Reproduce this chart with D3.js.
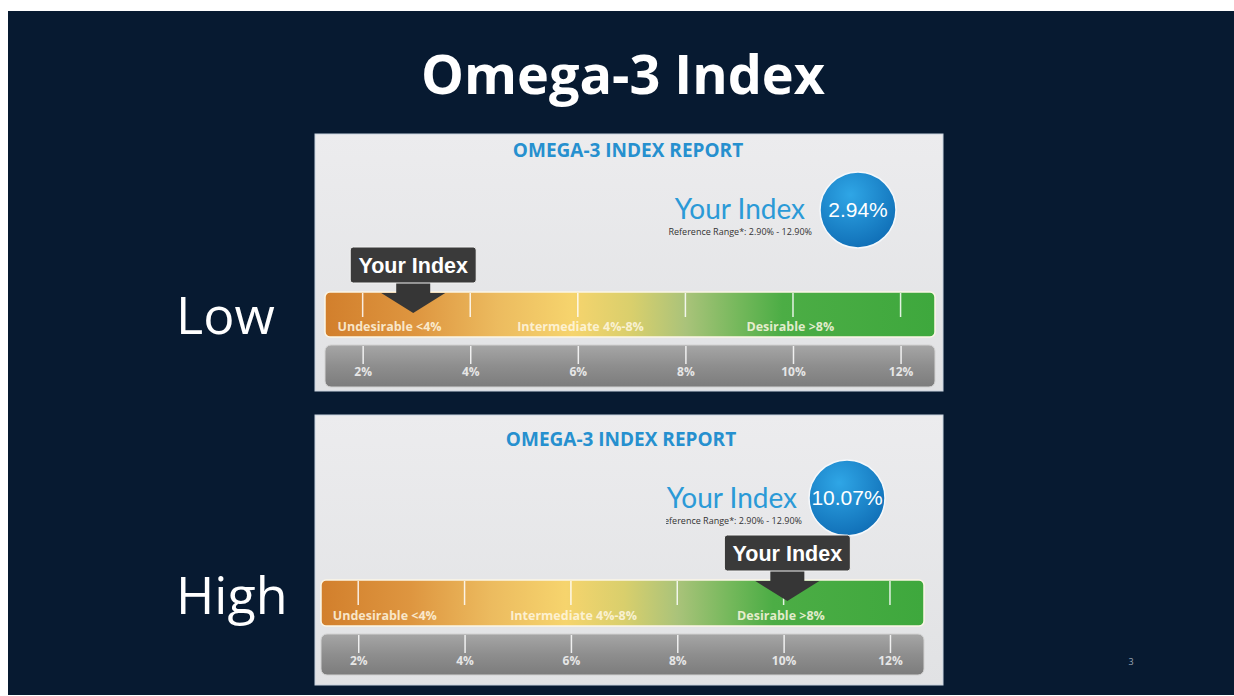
<!DOCTYPE html>
<html><head><meta charset="utf-8">
<script src="https://cdn.jsdelivr.net/npm/d3@7"></script>
<style>html,body{margin:0;padding:0;background:#fff;}svg{display:block;}</style>
</head><body>
<script>
// ---- data ----
const pageTitle = "Omega-3 Index";
const reportTitle = "OMEGA-3 INDEX REPORT";
const panelLabels = ["Low", "High"];
const indexValues = [2.94, 10.07];
const indexTexts = ["2.94%", "10.07%"];
const tickValues = [2, 4, 6, 8, 10, 12];
const tickLabels = ["2%", "4%", "6%", "8%", "10%", "12%"];
const zoneNames = ["Undesirable <4%", "Intermediate 4%-8%", "Desirable >8%"];
const zoneLabelAt = [2.5, 6.05, 9.95];
const scaleDomain = [1.3, 12.64];
const referenceRange = "Reference Range*: 2.90% - 12.90%";
const calloutText = "Your Index";
const pageNumber = "3";

// ---- layout ----
const W = 1234, H = 696;
const svg = d3.select("body").append("svg").attr("width", W).attr("height", H);
const defs = svg.append("defs");

svg.append("rect").attr("x", 8).attr("y", 11).attr("width", W - 8).attr("height", 684).attr("fill", "#071a31");

svg.append("text").attr("x", 623).attr("y", 94).attr("text-anchor", "middle")
  .attr("font-family", "'Open Sans', sans-serif").attr("font-weight", 700).attr("font-size", 54)
  .attr("fill", "#ffffff").text(pageTitle);

svg.append("text").attr("x", 1131).attr("y", 665).attr("text-anchor", "middle")
  .attr("font-family", "'Open Sans', sans-serif").attr("font-size", 9).attr("fill", "#9aa6b6").text(pageNumber);

// gradients
const pg = defs.append("linearGradient").attr("id", "panelBg").attr("x1", 0).attr("y1", 0).attr("x2", 0).attr("y2", 1);
pg.append("stop").attr("offset", 0).attr("stop-color", "#ececee");
pg.append("stop").attr("offset", 1).attr("stop-color", "#e1e2e4");

const gg = defs.append("linearGradient").attr("id", "greyBar").attr("x1", 0).attr("y1", 0).attr("x2", 0).attr("y2", 1);
gg.append("stop").attr("offset", 0).attr("stop-color", "#a6a6a6");
gg.append("stop").attr("offset", 0.5).attr("stop-color", "#8e8e8e");
gg.append("stop").attr("offset", 1).attr("stop-color", "#7c7c7c");

const cg = defs.append("radialGradient").attr("id", "bubble").attr("cx", "40%").attr("cy", "30%").attr("r", "75%");
cg.append("stop").attr("offset", 0).attr("stop-color", "#2fa6e6");
cg.append("stop").attr("offset", 1).attr("stop-color", "#0f6db5");

const colorStops = [
  [1.3, "#d27f2c"], [3.0, "#de9640"], [4.5, "#ecbb5f"], [5.9, "#f6d46d"],
  [7.0, "#d9cf6c"], [8.0, "#aac37a"], [9.0, "#74b85b"], [9.8, "#4cad45"], [12.64, "#3ea83d"]
];

const layouts = [
  {box: [315, 134, 628, 257], bar: [325, 935, 292, 337], grey: [345, 387], title: [628, 157],
   big: [805, 219], ref: [812, 235, 664], bub: [858, 210], label: [176, 334]},
  {box: [315, 415, 628, 270], bar: [321, 924, 580, 626], grey: [634, 675], title: [621, 446],
   big: [797, 508], ref: [802, 524, 666], bub: [847, 498], label: [176, 614]}
];

layouts.forEach((L, i) => {
  const g = svg.append("g");
  const x = d3.scaleLinear().domain(scaleDomain).range([L.bar[0], L.bar[1]]);

  // side label
  svg.append("text").attr("x", L.label[0]).attr("y", L.label[1])
    .attr("font-family", "'Open Sans', sans-serif").attr("font-size", 52).attr("fill", "#ffffff").text(panelLabels[i]);

  // panel
  g.append("rect").attr("x", L.box[0]).attr("y", L.box[1]).attr("width", L.box[2]).attr("height", L.box[3])
    .attr("fill", "url(#panelBg)").attr("stroke", "#c9d3df").attr("stroke-width", 1);

  g.append("text").attr("x", L.title[0]).attr("y", L.title[1]).attr("text-anchor", "middle")
    .attr("font-family", "'Open Sans', sans-serif").attr("font-weight", 700).attr("font-size", 19)
    .attr("fill", "#2690cf").text(reportTitle);

  g.append("text").attr("x", L.big[0]).attr("y", L.big[1]).attr("text-anchor", "end")
    .attr("font-family", "Lato, sans-serif").attr("font-size", 28)
    .attr("fill", "#2b9ad7").text(calloutText);

  const clipId = "refclip" + i;
  defs.append("clipPath").attr("id", clipId).append("rect")
    .attr("x", L.ref[2]).attr("y", L.ref[1] - 12).attr("width", 200).attr("height", 20);
  g.append("g").attr("clip-path", `url(#${clipId})`).append("text")
    .attr("x", L.ref[0]).attr("y", L.ref[1]).attr("text-anchor", "end")
    .attr("font-family", "'Open Sans', sans-serif").attr("font-size", 9)
    .attr("fill", "#333").text(referenceRange);

  g.append("circle").attr("cx", L.bub[0]).attr("cy", L.bub[1]).attr("r", 38)
    .attr("fill", "url(#bubble)").attr("stroke", "#f5f8fb").attr("stroke-width", 1.5);
  g.append("text").attr("x", L.bub[0]).attr("y", L.bub[1] + 7).attr("text-anchor", "middle")
    .attr("font-family", "'Liberation Sans', Arial, sans-serif").attr("font-size", 21)
    .attr("fill", "#ffffff").text(indexTexts[i]);

  // color bar gradient
  const gid = "zone" + i;
  const lg = defs.append("linearGradient").attr("id", gid).attr("gradientUnits", "userSpaceOnUse")
    .attr("x1", L.bar[0]).attr("x2", L.bar[1]).attr("y1", 0).attr("y2", 0);
  colorStops.forEach(s => lg.append("stop")
    .attr("offset", (x(s[0]) - L.bar[0]) / (L.bar[1] - L.bar[0])).attr("stop-color", s[1]));

  g.append("rect").attr("x", L.bar[0]).attr("y", L.bar[2]).attr("width", L.bar[1] - L.bar[0])
    .attr("height", L.bar[3] - L.bar[2]).attr("rx", 5).attr("fill", `url(#${gid})`)
    .attr("stroke", "#fbf6e6").attr("stroke-width", 1.5);

  g.selectAll(null).data(tickValues).join("line")
    .attr("x1", d => x(d)).attr("x2", d => x(d))
    .attr("y1", L.bar[2] + 1).attr("y2", L.bar[2] + 25)
    .attr("stroke", "rgba(255,255,255,0.85)").attr("stroke-width", 1.5);

  g.selectAll(null).data(zoneNames).join("text")
    .attr("x", (d, j) => x(zoneLabelAt[j])).attr("y", L.bar[3] - 6).attr("text-anchor", "middle")
    .attr("font-family", "'Open Sans', sans-serif").attr("font-weight", 700).attr("font-size", 12.5)
    .attr("fill", "rgba(255,248,228,0.85)").text(d => d);

  // grey scale bar
  g.append("rect").attr("x", L.bar[0]).attr("y", L.grey[0]).attr("width", L.bar[1] - L.bar[0])
    .attr("height", L.grey[1] - L.grey[0]).attr("rx", 6).attr("fill", "url(#greyBar)")
    .attr("stroke", "#d2d2d2").attr("stroke-width", 1);

  const axis = d3.axisBottom(x).tickValues(tickValues).tickFormat((d, j) => tickLabels[j]).tickSize(18).tickPadding(3);
  const ag = g.append("g").attr("transform", `translate(0,${L.grey[0] + 1})`).call(axis);
  ag.select(".domain").remove();
  ag.selectAll(".tick line").attr("stroke", "rgba(255,255,255,0.85)").attr("stroke-width", 1.5);
  ag.selectAll(".tick text").attr("fill", "#e6e6e6").attr("font-family", "'Open Sans', sans-serif")
    .attr("font-weight", 700).attr("font-size", 12);

  // callout
  const tipX = x(indexValues[i]);
  const tipY = L.bar[2] + 21;
  const boxBottom = tipY - 30;
  const ar = g.append("g");
  ar.append("path")
    .attr("d", `M${tipX - 17},${boxBottom - 2}L${tipX + 17},${boxBottom - 2}L${tipX + 17},${boxBottom + 10}` +
      `L${tipX + 32},${boxBottom + 10}L${tipX},${tipY}L${tipX - 32},${boxBottom + 10}L${tipX - 17},${boxBottom + 10}Z`)
    .attr("fill", "#363636");
  ar.append("rect").attr("x", tipX - 63).attr("y", boxBottom - 36).attr("width", 126).attr("height", 36)
    .attr("rx", 3).attr("fill", "#3a3a3a").attr("stroke", "#f2f2f2").attr("stroke-width", 1);
  ar.append("text").attr("x", tipX).attr("y", boxBottom - 10).attr("text-anchor", "middle")
    .attr("font-family", "'Liberation Sans', Arial, sans-serif").attr("font-weight", 700).attr("font-size", 21.5)
    .attr("fill", "#ffffff").text(calloutText);
});
</script>
</body></html>
